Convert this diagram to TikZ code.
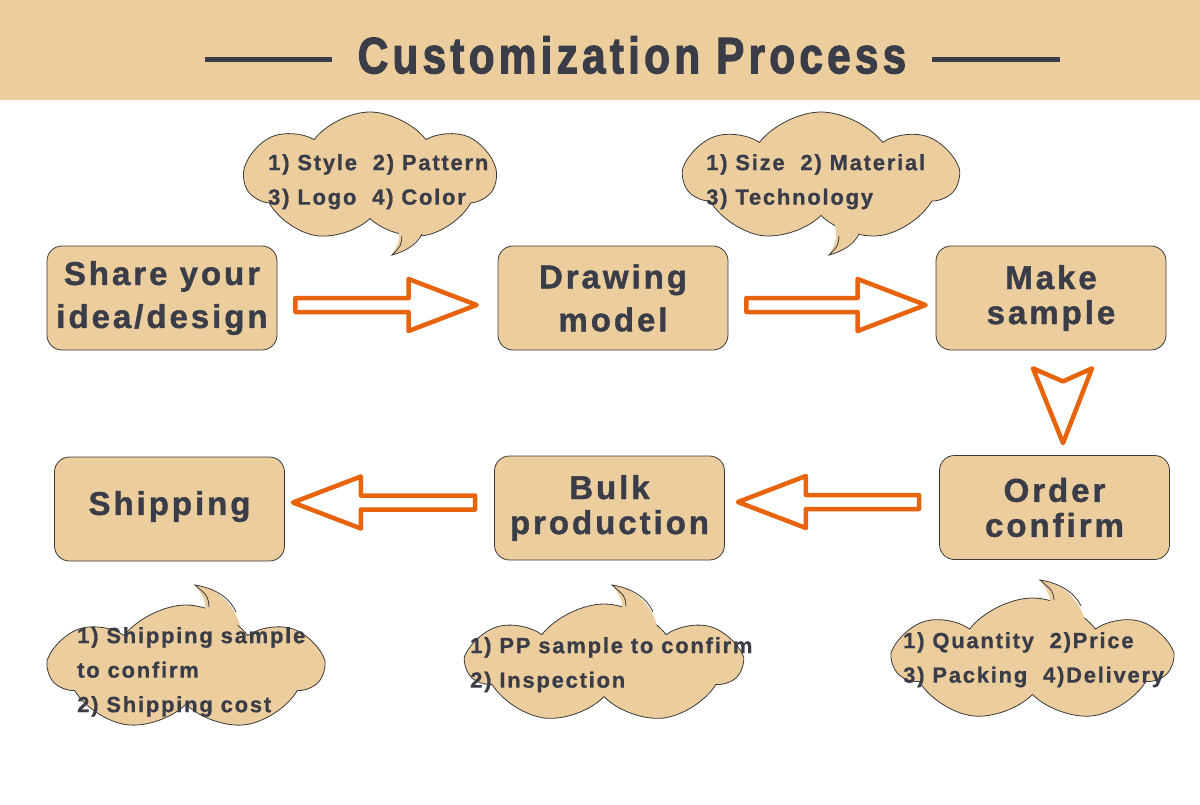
\documentclass[tikz,border=0pt]{standalone}
\usepackage{fontspec}
\setmainfont{Liberation Sans}
\newfontfamily\boxf{Liberation Sans Bold}[LetterSpace=9,FakeBold=1.2]
\newfontfamily\cloudf{Liberation Sans Bold}[LetterSpace=8,FakeBold=0.8]
\newfontfamily\titlef{Liberation Sans Bold}[LetterSpace=10,FakeBold=2.5]
\usetikzlibrary{shapes.symbols,calc}
\definecolor{tan}{HTML}{EBCD9E}
\definecolor{ink}{HTML}{3A3D47}
\definecolor{org}{HTML}{E8640C}
\definecolor{edge}{HTML}{3C3A38}
\newcommand\bigarrow[2]{%
  \coordinate (hb) at ($(#2)!68pt!(#1)$);
  \draw[flowarrow] ($(#1)!7pt!90:(#2)$) -- ($(hb)!7pt!-90:(#1)$) -- ($(hb)!26pt!-90:(#1)$)
    -- (#2) -- ($(hb)!26pt!90:(#1)$) -- ($(hb)!7pt!90:(#1)$) -- ($(#1)!7pt!-90:(#2)$) -- cycle;}
\begin{document}
\begin{tikzpicture}[x=1pt,y=-1pt,
  stepbox/.style={draw=edge, line width=0.8pt, fill=tan, rounded corners=15pt,
    minimum width=230pt, minimum height=104pt, inner sep=0pt, text=ink, align=center},
  wide/.style={font=\boxf\fontsize{33}{43}\selectfont},
  tight/.style={font=\boxf\fontsize{33}{35}\selectfont},
  flowarrow/.style={draw=org, line width=4.5pt, fill=white, line join=round},
  puff/.style={cloud, cloud puffs=7, cloud puff arc=105, draw=edge, line width=0.8pt, fill=tan, inner sep=0pt},
  tailfill/.style={fill=tan},
  tailline/.style={draw=edge, line width=0.8pt},
  note/.style={text=ink, align=left, anchor=north west, inner sep=0pt,
    font=\cloudf\fontsize{22}{34.5}\selectfont},
]
\useasboundingbox (0,0) rectangle (1200,804);
\fill[white] (0,0) rectangle (1200,804);
\fill[tan] (0,0) rectangle (1200,100);

% title
\node[text=ink, inner sep=0pt] (title) at (632,55)
  {\scalebox{0.83}[1]{\titlef\fontsize{51}{60}\selectfont Customization Process}};
\coordinate (tl1) at (205,59); \coordinate (tl2) at (332,59);
\coordinate (tr1) at (932,59); \coordinate (tr2) at (1060,59);
\draw[ink, line width=5pt] (tl1) -- (tl2);
\draw[ink, line width=5pt] (tr1) -- (tr2);

% clouds (drawn first)
\node[puff, minimum width=250pt, minimum height=130pt] (c1) at (370,177) {};
\fill[tailfill] (398,225) .. controls (400,240) .. (392,255) .. controls (410,250) and (420,240) .. (426,225) -- cycle;
\draw[tailline] (402,236) .. controls (401,246) .. (392,255) .. controls (410,250) and (418,242) .. (422,234);
\node[note] (t1) at (268,154) {1) Style\ \ 2) Pattern\\3) Logo\ \ 4) Color};

\node[puff, minimum width=272pt, minimum height=130pt] (c2) at (821,177) {};
\fill[tailfill] (835,225) .. controls (837,240) .. (829,255) .. controls (847,250) and (857,240) .. (863,225) -- cycle;
\draw[tailline] (839,236) .. controls (838,246) .. (829,255) .. controls (847,250) and (855,242) .. (859,234);
\node[note] (t2) at (706,154) {1) Size\ \ 2) Material\\3) Technology};

\node[puff, minimum width=272pt, minimum height=126pt] (c3) at (186,668) {};
\fill[tailfill] (205,625) .. controls (206,600) .. (195,585) .. controls (215,588) and (232,600) .. (240,625) -- cycle;
\draw[tailline] (209,607) .. controls (208,596) .. (195,585) .. controls (215,588) and (230,598) .. (236,612);
\node[note] (t3) at (77,627) {1) Shipping sample\\to confirm\\2) Shipping cost};

\node[puff, minimum width=272pt, minimum height=120pt] (c4) at (604,664) {};
\fill[tailfill] (622,625) .. controls (623,600) .. (612,585) .. controls (632,588) and (649,600) .. (657,625) -- cycle;
\draw[tailline] (626,606) .. controls (625,596) .. (612,585) .. controls (632,588) and (647,598) .. (653,612);
\node[note] (t4) at (470,637) {1) PP sample to confirm\\2) Inspection};

\node[puff, minimum width=276pt, minimum height=124pt] (c5) at (1032.5,660) {};
\fill[tailfill] (1050,620) .. controls (1051,596) .. (1040,580) .. controls (1060,583) and (1077,595) .. (1085,620) -- cycle;
\draw[tailline] (1054,600) .. controls (1053,591) .. (1040,580) .. controls (1060,583) and (1075,593) .. (1081,606);
\node[note] (t5) at (903,632) {1) Quantity\ \ 2)Price\\3) Packing\ \ 4)Delivery};

% boxes
\node[stepbox, wide] (share) at (162,298) {Share your\\idea/design};
\node[stepbox, wide] (drawm) at (613,298) {Drawing\\model};
\node[stepbox, tight] (make) at (1051,298) {Make\\sample};
\node[stepbox, tight] (order) at (1054.5,507.5) {Order\\confirm};
\node[stepbox, tight] (bulk) at (609.5,508) {Bulk\\production};
\node[stepbox, tight] (ship) at (169.5,509) {\raisebox{12pt}{Shipping}};

% arrows
\coordinate (a1s) at ($(share.east)+(18,7)$);
\coordinate (a1t) at ($(drawm.west)+(-21,7)$);
\bigarrow{a1s}{a1t}
\coordinate (a2s) at ($(drawm.east)+(18,7)$);
\coordinate (a2t) at ($(make.west)+(-10,7)$);
\bigarrow{a2s}{a2t}
\coordinate (a4s) at ($(order.west)+(-20,-5.5)$);
\coordinate (a4t) at ($(bulk.east)+(13,-6)$);
\bigarrow{a4s}{a4t}
\coordinate (a5s) at ($(bulk.west)+(-19,-5.5)$);
\coordinate (a5t) at ($(ship.east)+(8,-6.5)$);
\bigarrow{a5s}{a5t}
\coordinate (dn) at ($(make.south)+(12,31)$);
\coordinate (dt) at ($(order.north)+(8.5,-12)$);
\draw[flowarrow] (dn) -- ($(dn)+(-30,-13)$) -- (dt) -- ($(dn)+(29,-13)$) -- cycle;
\end{tikzpicture}
\end{document}
